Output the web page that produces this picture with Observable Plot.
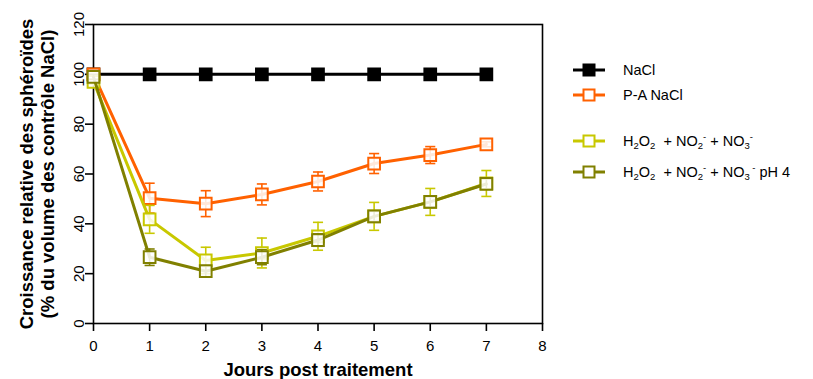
<!DOCTYPE html>
<html>
<head>
<meta charset="utf-8">
<script src="https://cdn.jsdelivr.net/npm/d3@7"></script>
<script src="https://cdn.jsdelivr.net/npm/@observablehq/plot@0.6"></script>
<style>
  html, body { margin: 0; padding: 0; background: #fff; }
  #wrap { position: relative; width: 813px; height: 379px; font-family: "Liberation Sans", Arial, sans-serif; }
  .leg { position: absolute; left: 572px; font-size: 14.5px; color: #000; }
  .row { position: absolute; left: 0; white-space: nowrap; display: flex; align-items: center; }
  .row svg { margin-right: 17px; }
  sub, sup { font-size: 9.5px; }
  sub { vertical-align: -3px; }
  sup { vertical-align: 6px; }
</style>
</head>
<body>
<div id="wrap"></div>
<script>
const days = [0, 1, 2, 3, 4, 5, 6, 7];
const seriesNames = ["NaCl", "P-A NaCl", "H2O2 + NO2- + NO3-", "H2O2 + NO2- + NO3- pH 4"];
const seriesColors = ["#000000", "#ff6100", "#c8c800", "#808000"];
const naclMean = [100, 100, 100, 100, 100, 100, 100, 100];
const naclErr  = [0, 0, 0, 0, 0, 0, 0, 0];
const paMean   = [100, 50.3, 48.1, 51.8, 57, 64.2, 67.6, 71.9];
const paErr    = [1, 6, 5.2, 4.2, 3.8, 4, 3.4, 1];
const h2Mean   = [97, 41.8, 25.3, 28.3, 35, 43, 48.8, 56.2];
const h2Err    = [1, 5.6, 5.3, 6, 5.6, 5.6, 5.4, 5.2];
const phMean   = [99, 26.6, 21, 26.6, 33.5, 43, 48.8, 56];
const phErr    = [1, 3.3, 2.2, 3, 2.5, 2, 2, 2];
const yTicks = [0, 20, 40, 60, 80, 100, 120];
const xTicks = [0, 1, 2, 3, 4, 5, 6, 7, 8];

const means = [naclMean, paMean, h2Mean, phMean];
const errs = [naclErr, paErr, h2Err, phErr];

const rows = [];
seriesNames.forEach((s, i) => {
  days.forEach((d, j) => {
    rows.push({series: s, idx: i, day: d, mean: means[i][j], err: errs[i][j]});
  });
});

const capHalf = 0.09;

const marks = [
  Plot.frame({stroke: "#000", strokeWidth: 1.6}),
  Plot.axisX({ticks: xTicks, tickSize: 8, tickPadding: 9, fontSize: 15, label: null, strokeWidth: 1.6}),
  Plot.axisY({ticks: yTicks, tickSize: 8, tickPadding: 2, fontSize: 15, tickRotate: -90, label: null, strokeWidth: 1.6}),
];

seriesNames.forEach((s, i) => {
  const data = rows.filter(r => r.idx === i);
  const eb = data.filter(r => r.err > 0);
  marks.push(
    Plot.line(data, {x: "day", y: "mean", stroke: seriesColors[i], strokeWidth: 3}),
    Plot.ruleX(eb, {x: "day", y1: d => d.mean - d.err, y2: d => d.mean + d.err, stroke: seriesColors[i], strokeWidth: 1.6}),
    Plot.link(eb, {x1: d => d.day - capHalf, x2: d => d.day + capHalf, y1: d => d.mean + d.err, y2: d => d.mean + d.err, stroke: seriesColors[i], strokeWidth: 1.6}),
    Plot.link(eb, {x1: d => d.day - capHalf, x2: d => d.day + capHalf, y1: d => d.mean - d.err, y2: d => d.mean - d.err, stroke: seriesColors[i], strokeWidth: 1.6}),
    Plot.dot(data, {x: "day", y: "mean", symbol: "square", r: 6.6,
      fill: i === 0 ? "#000" : "#fff", fillOpacity: i === 0 ? 1 : 0.85, stroke: seriesColors[i], strokeWidth: 2})
  );
});

marks.push(
  Plot.text(["Croissance relative des sphéroïdes\n(% du volume des contrôle NaCl)"], {
    frameAnchor: "left", textAnchor: "middle", dx: -57, rotate: -90, fontWeight: "bold", fontSize: 18.5, lineHeight: 1.15
  }),
  Plot.text(["Jours post traitement"], {
    frameAnchor: "bottom", dy: 52, fontWeight: "bold", fontSize: 18.5
  })
);

const chart = Plot.plot({
  width: 813,
  height: 379,
  marginLeft: 93,
  marginRight: 271,
  marginTop: 24,
  marginBottom: 56,
  x: {domain: [0, 8]},
  y: {domain: [0, 120]},
  style: {fontFamily: "'Liberation Sans', Arial, sans-serif", fontSize: "15px", color: "#000", background: "#fff", overflow: "visible"},
  marks
});

// enlarge axis tick labels (numbers only)
d3.select(chart).selectAll("text").each(function () {
  if (/^\d+$/.test(this.textContent.trim())) {
    this.style.fontSize = "15px";
    if (this.parentNode && this.parentNode.style) this.parentNode.style.fontSize = "15px";
  }
});

const wrap = document.getElementById("wrap");
wrap.appendChild(chart);

// Legend
const legendItems = [
  {html: "NaCl", y: 70},
  {html: "P-A NaCl", y: 95},
  {html: "H<sub>2</sub>O<sub>2</sub>&nbsp; + NO<sub>2</sub><sup>-</sup> + NO<sub>3</sub><sup>-</sup>", y: 141},
  {html: "H<sub>2</sub>O<sub>2</sub>&nbsp; + NO<sub>2</sub><sup>-</sup> + NO<sub>3</sub><sup>&nbsp;-</sup> pH 4", y: 172}
];
const leg = document.createElement("div");
leg.className = "leg";
leg.style.top = "0px";
legendItems.forEach((it, i) => {
  const row = document.createElement("div");
  row.className = "row";
  row.style.top = (it.y - 10) + "px";
  const c = seriesColors[i];
  const fill = i === 0 ? "#000" : "#fff";
  row.innerHTML = `<svg width="34" height="20"><line x1="1" x2="33" y1="10" y2="10" stroke="${c}" stroke-width="3"/><rect x="11.5" y="4.5" width="11" height="11" fill="${fill}" stroke="${c}" stroke-width="2"/></svg><span>${it.html}</span>`;
  leg.appendChild(row);
});
wrap.appendChild(leg);
</script>
</body>
</html>
